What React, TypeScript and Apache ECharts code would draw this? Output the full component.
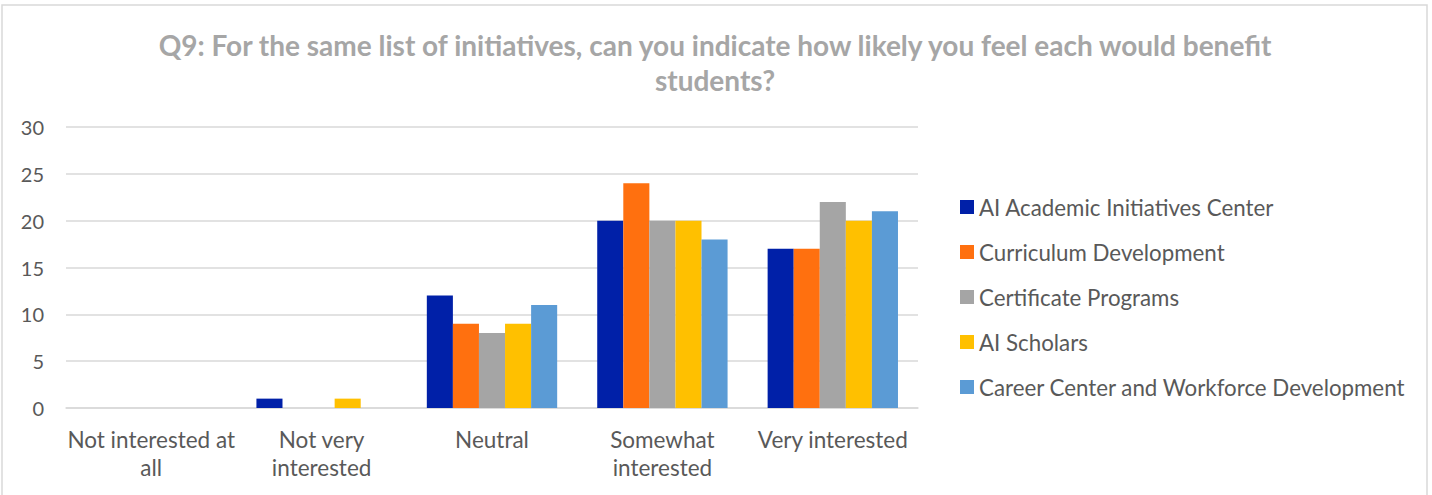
import React, { useEffect, useRef } from "react";
import * as echarts from "echarts";

const categories = ["Not interested at\nall", "Not very\ninterested", "Neutral", "Somewhat\ninterested", "Very interested"];
const seriesNames = [
  "AI Academic Initiatives Center",
  "Curriculum Development",
  "Certificate Programs",
  "AI Scholars",
  "Career Center and Workforce Development",
];
const aiAcademic = [0, 1, 12, 20, 17];
const curriculum = [0, 0, 9, 24, 17];
const certificate = [0, 0, 8, 20, 22];
const aiScholars = [0, 1, 9, 20, 20];
const careerCenter = [0, 0, 11, 18, 21];
const seriesValues = [aiAcademic, curriculum, certificate, aiScholars, careerCenter];
const colors = ["#0020A8", "#FF700F", "#A5A5A5", "#FFC000", "#5B9BD5"];
const titleText = "Q9: For the same list of initiatives, can you indicate how likely you feel each would benefit\nstudents?";

const FONT = "Lato";

export default function App() {
  const ref = useRef<HTMLDivElement>(null);
  useEffect(() => {
    if (!ref.current) return;
    const chart = echarts.init(ref.current, undefined, { renderer: "svg" });
    chart.setOption({
      animation: false,
      backgroundColor: "#ffffff",
      color: colors,
      title: {
        text: titleText,
        left: 710,
        textAlign: "center",
        top: 22,
        textStyle: {
          fontFamily: FONT,
          fontSize: 28,
          fontWeight: "bold",
          color: "#A6A6A6",
          lineHeight: 35,
        },
      },
      graphic: [
        {
          type: "rect",
          shape: { x: 2, y: 5, width: 1425, height: 500 },
          style: { fill: "none", stroke: "#D9D9D9", lineWidth: 1.5 },
          silent: true,
        },
      ],
      legend: {
        orient: "vertical",
        left: 955,
        top: 191,
        itemWidth: 14,
        itemHeight: 14,
        itemGap: 23,
        icon: "rect",
        data: seriesNames,
        textStyle: { fontFamily: FONT, fontSize: 22.3, color: "#595959", lineHeight: 20 },
      },
      grid: { left: 66, right: 514, top: 127, bottom: 87, containLabel: false },
      xAxis: {
        type: "category",
        data: categories,
        axisLine: { lineStyle: { color: "#D9D9D9", width: 1.5 } },
        axisTick: { show: false },
        axisLabel: {
          fontFamily: FONT,
          fontSize: 22.5,
          color: "#595959",
          lineHeight: 28,
          margin: 17,
          interval: 0,
        },
      },
      yAxis: {
        type: "value",
        min: 0,
        max: 30,
        interval: 5,
        axisLine: { show: false },
        axisTick: { show: false },
        splitLine: { lineStyle: { color: "#D9D9D9", width: 1.5 } },
        axisLabel: { fontFamily: FONT, fontSize: 20, color: "#595959", margin: 22 },
      },
      series: seriesNames.map((name, i) => ({
        name,
        type: "bar",
        data: seriesValues[i],
        barGap: "0%",
        barCategoryGap: "23.5%",
        itemStyle: { color: colors[i] },
      })),
    });
    return () => chart.dispose();
  }, []);
  return (
    <div
      ref={ref}
      style={{ position: "fixed", left: 0, top: 0, width: 1432, height: 495 }}
    />
  );
}
